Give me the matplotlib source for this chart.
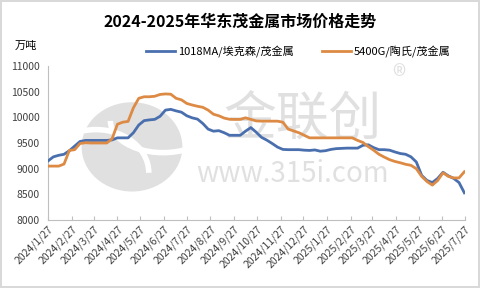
import numpy as np
import pandas as pd
import matplotlib
matplotlib.use('Agg')
import matplotlib.pyplot as plt
from matplotlib.patches import Ellipse, Arc

plt.rcParams['font.family'] = ['Noto Sans CJK SC', 'DejaVu Sans']

title = '2024-2025年华东茂金属市场价格走势'
unit = '万吨'
name_a = '1018MA/埃克森/茂金属'
name_b = '5400G/陶氏/茂金属'

# weekly prices, starting 2024-01-27
dates = pd.date_range('2024-01-27', periods=79, freq='7D')
price_a = [9150, 9230, 9260, 9280, 9350, 9440, 9530, 9550, 9550, 9550,
           9550, 9550, 9560, 9600, 9600, 9600, 9700, 9850, 9935, 9950,
           9960, 10020, 10140, 10155, 10125, 10100, 10030, 9990, 9965, 9880,
           9770, 9730, 9740, 9700, 9650, 9650, 9650, 9730, 9800, 9710,
           9610, 9555, 9490, 9420, 9375, 9370, 9370, 9370, 9360, 9355,
           9365, 9340, 9350, 9375, 9390, 9395, 9400, 9400, 9400, 9455,
           9465, 9410, 9370, 9370, 9360, 9325, 9295, 9280, 9230, 9130,
           8870, 8770, 8730, 8810, 8930, 8860, 8810, 8730, 8530]
price_b = [9050, 9050, 9050, 9090, 9355, 9370, 9490, 9505, 9500, 9500,
           9500, 9500, 9580, 9865, 9905, 9920, 10185, 10370, 10400, 10400,
           10410, 10445, 10455, 10450, 10370, 10340, 10270, 10240, 10215, 10195,
           10140, 10060, 10030, 9985, 9962, 9960, 9960, 9990, 9960, 9930,
           9925, 9925, 9925, 9925, 9905, 9770, 9735, 9700, 9650, 9600,
           9600, 9600, 9600, 9600, 9600, 9600, 9600, 9600, 9550, 9510,
           9430, 9360, 9280, 9225, 9175, 9140, 9115, 9085, 9065, 9000,
           8850, 8750, 8680, 8770, 8920, 8850, 8820, 8820, 8940]

tick_dates = pd.date_range('2024-01-27', periods=19, freq=pd.DateOffset(months=1))
tick_labels = [f'{d.year}/{d.month}/{d.day}' for d in tick_dates]

fig = plt.figure(figsize=(4.8, 2.88), dpi=100)
fig.patch.set_edgecolor('#d9d9d9')
fig.patch.set_linewidth(1.5)

# watermark (drawn behind the axes)
wm = '#d4d4d4'
fig.patches.append(Ellipse((0.275, 0.49), 0.21, 0.31, transform=fig.transFigure,
                           facecolor='#e0e0e0', edgecolor='none', zorder=0))
fig.patches.append(Arc((0.34, 0.58), 0.22, 0.22, angle=0, theta1=180, theta2=300,
                       transform=fig.transFigure, color='white', lw=4, zorder=0))
fig.patches.append(Arc((0.2, 0.4), 0.22, 0.3, angle=0, theta1=0, theta2=100,
                       transform=fig.transFigure, color='white', lw=4, zorder=0))
fig.text(0.63, 0.585, '金联创', fontsize=38, color=wm, ha='center', va='center',
         alpha=0.7, zorder=0)
fig.text(0.61, 0.395, 'www.315i.com', fontsize=20, color=wm, ha='center',
         va='center', alpha=0.7, zorder=0)
fig.text(0.83, 0.73, '®', fontsize=20, color=wm, ha='center', va='center',
         alpha=0.7, zorder=0)

ax = fig.add_axes([0.1, 0.236, 0.869, 0.535])
ax.set_zorder(2)
ax.patch.set_alpha(0)

ax.plot(dates, price_a, color='#4a6fae', lw=2, label=name_a, zorder=3)
ax.plot(dates, price_b, color='#dd8a44', lw=2, label=name_b, zorder=3)

ax.set_ylim(8000, 11000)
ax.set_yticks(range(8000, 11001, 500))
ax.set_xlim(dates[0], tick_dates[-1])
ax.set_xticks(tick_dates)
ax.set_xticklabels(tick_labels, rotation=45, ha='right', rotation_mode='anchor',
                   fontsize=7.5, color='#404040')
ax.tick_params(axis='y', length=0, labelsize=7.5, labelcolor='#404040', pad=6)
ax.tick_params(axis='x', direction='in', length=3, color='#bfbfbf', pad=3)
for s in ['top', 'right']:
    ax.spines[s].set_visible(False)
for s in ['left', 'bottom']:
    ax.spines[s].set_color('#bfbfbf')

fig.text(0.5, 0.925, title, fontsize=11.5, fontweight='bold', ha='center',
         va='center')
fig.text(0.03, 0.84, unit, fontsize=8, va='center')
ax.legend(loc='lower center', bbox_to_anchor=(0.6, 0.99), ncol=2, frameon=False,
          fontsize=8, handlelength=2.6, columnspacing=2.5, handletextpad=0.3)

fig.savefig('out.png', dpi=100)
